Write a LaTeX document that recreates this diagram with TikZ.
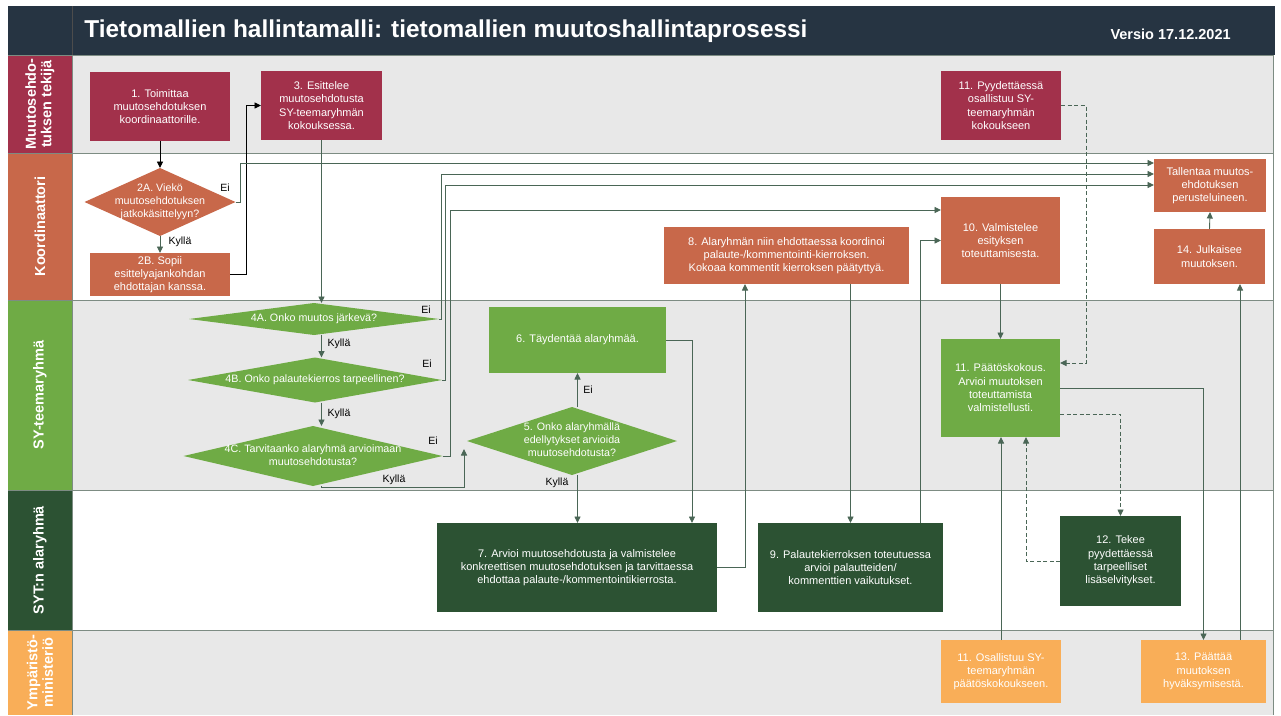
\documentclass[tikz,border=0pt]{standalone}
\usepackage{fontspec}
\setmainfont{Liberation Sans}
\usetikzlibrary{arrows.meta,shapes.geometric,positioning,calc}

\definecolor{titlebg}{HTML}{263442}
\definecolor{tekcol}{HTML}{A2314B}
\definecolor{koocol}{HTML}{C8684A}
\definecolor{syecol}{HTML}{6FAB45}
\definecolor{alacol}{HTML}{2C5233}
\definecolor{ymcol}{HTML}{F9AE58}
\definecolor{lanegray}{HTML}{E8E8E8}
\definecolor{linecol}{HTML}{4A6656}
\definecolor{sepcol}{HTML}{7D8C83}

% diamond text: no width of its own
\newcommand{\dtxt}[1]{\makebox[0pt]{\begin{tabular}{@{}c@{}}#1\end{tabular}}}

\begin{document}
\begin{tikzpicture}[x=1pt,y=-1pt,
  every node/.style={font=\fontsize{11}{13.3}\selectfont, outer sep=0pt},
  sz/.style 2 args={minimum width=#1pt, minimum height=#2pt},
  tbox/.style={fill=tekcol, text=white, align=center, inner sep=1pt},
  kbox/.style={fill=koocol, text=white, align=center, inner sep=1pt},
  gbox/.style={fill=syecol, text=white, align=center, inner sep=1pt},
  abox/.style={fill=alacol, text=white, align=center, inner sep=1pt},
  ybox/.style={fill=ymcol, text=white, align=center, inner sep=1pt},
  dec/.style={diamond, aspect=1, inner sep=0pt, fill=syecol, text=white,
    font=\fontsize{10.7}{13}\selectfont},
  flow/.style={draw=linecol, line width=0.9pt, -{Triangle[length=6.5pt,width=6pt]}},
  bflow/.style={flow, draw=black},
  dflow/.style={flow, dash pattern=on 4pt off 2.5pt},
  ans/.style={font=\fontsize{10.5}{12}\selectfont, text=black, inner sep=1pt},
  lanelab/.style={rotate=90, text=white, align=center, font=\fontsize{14.5}{15.5}\selectfont\bfseries},
]
\useasboundingbox (0,0) rectangle (1281,715);

% title bar
\fill[titlebg] (8,6) rectangle (1275,55);
\draw[black!70, line width=1pt] (72,6) -- (72,55);
\node[anchor=west, text=white, font=\fontsize{24.4}{27}\selectfont\bfseries] (title) at (81,31)
  {Tietomallien hallintamalli: tietomallien muutoshallintaprosessi};
\node[anchor=east, text=white, font=\fontsize{14.5}{16}\selectfont\bfseries] (versio) at (1234,34)
  {Versio 17.12.2021};

% lanes
\foreach \ya/\yb/\lcol/\bcol/\lab [count=\i] in {
  55/153/tekcol/lanegray/{Muutosehdo-\\tuksen tekijä},
  153/300/koocol/white/{Koordinaattori},
  300/490/syecol/lanegray/{SY-teemaryhmä},
  490/630/alacol/white/{SYT:n alaryhmä},
  630/715/ymcol/lanegray/{Ympäristö-\\ministeriö}}
{
  \fill[\bcol] (72,\ya) rectangle (1273,\yb);
  \fill[\lcol] (8,\ya) rectangle (72,\yb);
  \node[lanelab] (lane\i) at (40,{(\ya+\yb)/2}) {\lab};
  \draw[sepcol, line width=0.8pt] (8,\ya) -- (1273,\ya);
}
\draw[sepcol, line width=0.8pt] (72,55) -- (72,715);
\draw[sepcol, line width=0.8pt] (1273,55) -- (1273,715);

% muutosehdotuksen tekija
\node[tbox,sz={140}{69}] (s1) at (160,106.5) {1. Toimittaa\\muutosehdotuksen\\koordinaattorille.};
\node[tbox,sz={121}{69}] (s3) at (321.5,105.5) {3. Esittelee\\muutosehdotusta\\SY-teemaryhmän\\kokouksessa.};
\node[tbox,sz={120}{69}] (s11a) at (1001,105.5) {11. Pyydettäessä\\osallistuu SY-\\teemaryhmän\\kokoukseen};

% koordinaattori
\node[dec,fill=koocol,sz={151}{68}] (s2a) at (160,202) {\dtxt{2A. Viekö\\muutosehdotuksen\\jatkokäsittelyyn?}};
\node[kbox,sz={140}{43}] (s2b) at (160,274.5) {2B. Sopii\\esittelyajankohdan\\ehdottajan kanssa.};
\node[kbox,sz={245}{57}] (s8) at (786.5,255.5) {8. Alaryhmän niin ehdottaessa koordinoi\\palaute-/kommentointi-kierroksen.\\Kokoaa kommentit kierroksen päätyttyä.};
\node[kbox,sz={119}{87}] (s10) at (1000.5,240.5) {10. Valmistelee\\esityksen\\toteuttamisesta.};
\node[kbox,sz={112}{53}] (stal) at (1210,185.5) {Tallentaa muutos-\\ehdotuksen\\perusteluineen.};
\node[kbox,sz={111}{55}] (s14) at (1209.5,256.5) {14. Julkaisee\\muutoksen.};

% sy-teemaryhma
\node[dec,sz={250}{32}] (s4a) at (314,319) {\dtxt{4A. Onko muutos järkevä?}};
\node[dec,sz={254}{45}] (s4b) at (315,380) {\dtxt{4B. Onko palautekierros tarpeellinen?}};
\node[dec,sz={259}{60}] (s4c) at (313,456) {\dtxt{4C. Tarvitaanko alaryhmä arvioimaan\\muutosehdotusta?}};
\node[dec,sz={210}{68}] (s5) at (572,441) {\dtxt{5. Onko alaryhmällä\\edellytykset arvioida\\muutosehdotusta?}};
\node[gbox,sz={177}{66}] (s6) at (577.5,340) {6. Täydentää alaryhmää.};
\node[gbox,sz={119}{98}] (s11b) at (1000.5,388) {11. Päätöskokous.\\Arvioi muutoksen\\toteuttamista\\valmistellusti.};

% alaryhma
\node[abox,sz={280}{89}] (s7) at (577,567.5) {7. Arvioi muutosehdotusta ja valmistelee\\konkreettisen muutosehdotuksen ja tarvittaessa\\ehdottaa palaute-/kommentointikierrosta.};
\node[abox,sz={185}{89}] (s9) at (850.5,567.5) {9. Palautekierroksen toteutuessa\\arvioi palautteiden/\\kommenttien vaikutukset.};
\node[abox,sz={121}{90}] (s12) at (1120.5,561) {12. Tekee\\pyydettäessä\\tarpeelliset\\lisäselvitykset.};

% ymparistoministerio
\node[ybox,sz={120}{63}] (s11c) at (1001,671.5) {11. Osallistuu SY-\\teemaryhmän\\päätöskokoukseen.};
\node[ybox,sz={125}{63}] (s13) at (1203.5,671.5) {13. Päättää\\muutoksen\\hyväksymisestä.};

% answers
\node[ans] (e2a) at (225,188) {Ei};
\node[ans] (k2a) at (180,242) {Kyllä};
\node[ans] (e4a) at (426,310) {Ei};
\node[ans] (k4a) at (339,344) {Kyllä};
\node[ans] (e4b) at (427,364) {Ei};
\node[ans] (k4b) at (339,414) {Kyllä};
\node[ans] (e4c) at (433,441) {Ei};
\node[ans] (k4c) at (394,480) {Kyllä};
\node[ans] (e5) at (588,390) {Ei};
\node[ans] (k5) at (557,483) {Kyllä};

% flows
\draw[bflow] (s1.south) -- (s2a.north);
\draw[flow] (s2a.south) -- (s2b.north);
\draw[bflow] (s2b.east) -- ++(16,0) |- (s3.west);
\draw[flow] (s2a.east) -- ++(5,0) |- (stal.west |- 0,163);
\draw[flow] (s3.south) -- (s3.south |- s4a.north);
\draw[flow] (s4a.east) -- ++(2,0) |- (stal.west |- 0,174);
\draw[flow] (s4a.south -| s3.south) -- (s4b.north -| s3.south);
\draw[flow] (s4b.east) -- ++(3,0) |- (stal.west |- 0,185);
\draw[flow] (s4b.south -| s3.south) -- (s4c.north -| s3.south);
\draw[flow] (s4c.east) -- ++(8,0) |- (s10.west |- 0,210);
\draw[flow] (s4c.south -| s3.south) -- ++(0,1) -| ([xshift=-3pt,yshift=-8pt]s5.west);
\draw[flow] (s6.south |- s5.north) -- (s6.south);
\draw[flow] (s6.south |- s5.south) -- (s6.south |- s7.north);
\draw[flow] (s6.east) -| ([xshift=115pt]s7.north);
\draw[flow] (s7.east) -| ([xshift=-41.5pt]s8.south);
\draw[flow] (s9.north |- s8.south) -- (s9.north);
\draw[flow] ([xshift=69.5pt]s9.north) |- (s10.west);
\draw[flow] (s10.south) -- (s11b.north);
\draw[dflow] (s11a.east) -- ++(25,0) |- ([yshift=25pt]s11b.east);
\draw[flow] (s11b.east) -| (s13.north);
\draw[dflow] ([yshift=-26pt]s11b.east) -| (s12.north);
\draw[dflow] (s12.west) -| ([xshift=25.5pt]s11b.south);
\draw[flow] (s11c.north) -- (s11c.north |- s11b.south);
\draw[flow] ([xshift=36.5pt]s13.north) -- ([xshift=36.5pt]s13.north |- s14.south);
\draw[flow] (s14.north) -- (stal.south);

\end{tikzpicture}
\end{document}
